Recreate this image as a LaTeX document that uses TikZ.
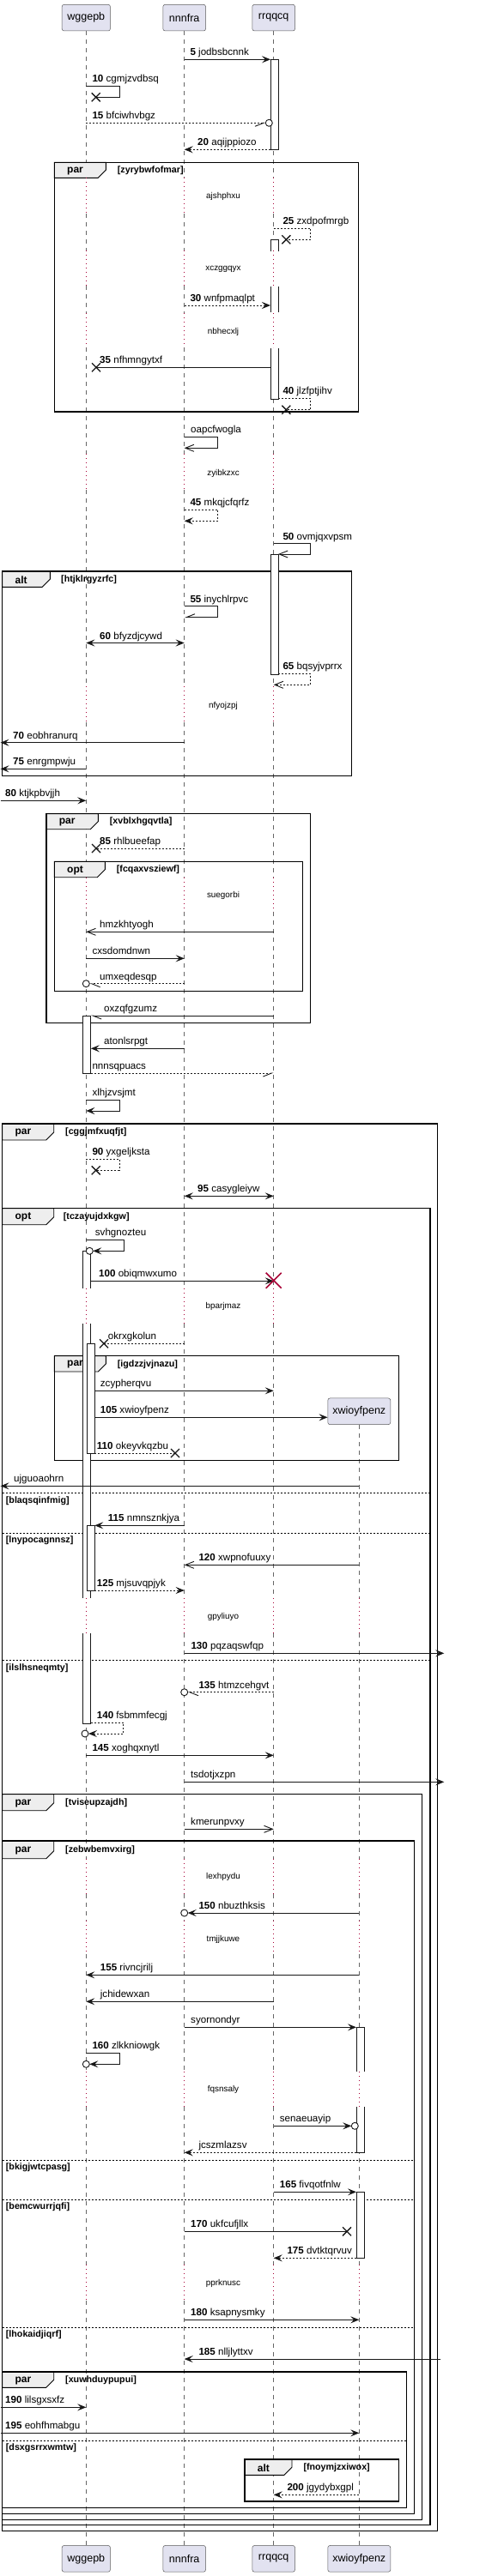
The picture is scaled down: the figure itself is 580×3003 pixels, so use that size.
\documentclass[tikz,border=0pt]{standalone}
\usepackage{fontspec}
\setmainfont{Liberation Sans}
\usetikzlibrary{arrows.meta,calc}

\definecolor{partfill}{RGB}{226,226,240}
\definecolor{tabfill}{RGB}{238,238,238}
\definecolor{delayred}{RGB}{168,0,54}
\definecolor{inkline}{RGB}{24,24,24}

\tikzset{
  participant/.style={draw=black!65, line width=0.5pt, fill=partfill, rounded corners=2.5pt,
    minimum height=30.7pt, inner sep=0pt, font=\fontsize{12.5}{14}\selectfont},
  lifeline/.style={draw=black!60, line width=0.5pt, dash pattern=on 5pt off 5pt},
  delayline/.style={draw=delayred, line width=0.6pt, dash pattern=on 1pt off 4pt},
  delaytext/.style={font=\fontsize{9.9}{11}\selectfont, inner sep=0pt},
  actbar/.style={draw=inkline, line width=0.8pt, fill=white, minimum width=9pt, inner sep=0pt, outer sep=0pt},
  msg/.style={draw=inkline, line width=0.9pt},
  reply/.style={msg, dash pattern=on 2pt off 2pt},
  headfill/.style={-{Stealth[length=10pt,width=8pt,inset=4pt]}},
  headboth/.style={{Stealth[length=10pt,width=8pt,inset=4pt]}-{Stealth[length=10pt,width=8pt,inset=4pt]}},
  headopen/.style={-{Straight Barb[length=10pt,width=8pt]}},
  halfleft/.style={-{Straight Barb[left,length=10pt,width=8pt]}},
  halfright/.style={-{Straight Barb[right,length=10pt,width=8pt]}},
  lbl/.style={font=\fontsize{11.6}{13}\selectfont, inner sep=0pt, anchor=base west},
  grpframe/.style={draw=black, line width=1.4pt},
  grptab/.style={draw=black, line width=0.9pt, fill=tabfill},
  keyword/.style={font=\bfseries\fontsize{12}{13}\selectfont, inner sep=0pt, anchor=west},
  guard/.style={font=\bfseries\fontsize{10.7}{12}\selectfont, inner sep=0pt, anchor=west},
  elseline/.style={draw=black, line width=0.8pt, dash pattern=on 2pt off 2pt},
  lost/.pic={\draw[inkline, line width=1.3pt] (-5,-5) -- (5,5) (-5,5) -- (5,-5);},
  kill/.pic={\draw[delayred, line width=1.6pt] (-9,-9) -- (9,9) (-9,9) -- (9,-9);},
  ring/.pic={\draw[inkline, line width=0.9pt, fill=white] (0,0) circle [radius=4pt];}
}

% L, T, R, B, tab right, tab bottom, keyword, guard x, guard
\newcommand{\seqgroup}[9]{%
  \draw[grptab] (#1,#2) -- (#5,#2) -- (#5,#6-9) -- (#5-9,#6) -- (#1,#6) -- cycle;
  \draw[grpframe] (#1,#2) rectangle (#3,#4);
  \node[keyword] (#9-kw) at (#1+14.7,{(#2+#6)/2+1}) {#7};
  \node[guard] (#9-guard) at (#8,{(#2+#6)/2+0.5}) {[#9]};
}
% L, R, y, guard
\newcommand{\seqelse}[4]{%
  \draw[elseline] (#1,#3) -- (#2,#3);
  \node[guard] (#4-guard) at (6.7,#3+8.7) {[#4]};
}

\begin{document}
\begin{tikzpicture}[x=1pt,y=-1pt]
\fill[white] (0,0) rectangle (580,3003);
\useasboundingbox (0,0) rectangle (580,3003);

% participants
\node[participant, minimum width=56.3pt] (wggepb) at (100.3,20.65) {wggepb};
\node[participant, minimum width=49.7pt] (nnnfra) at (214.7,20.65) {nnnfra};
\node[participant, minimum width=49.7pt] (rrqqcq) at (318.7,20.65) {rrqqcq};
\node[participant, minimum width=73pt] (xwioyfpenz) at (418.3,1645.3) {xwioyfpenz};
\node[participant, minimum width=56.3pt] (wggepb-end) at (100.3,2982.8) {wggepb};
\node[participant, minimum width=49.7pt] (nnnfra-end) at (214.7,2982.8) {nnnfra};
\node[participant, minimum width=49.7pt] (rrqqcq-end) at (318.7,2982.8) {rrqqcq};
\node[participant, minimum width=73pt] (xwioyfpenz-end) at (418.3,2982.8) {xwioyfpenz};

\coordinate (lbound) at (0.5,0);
\coordinate (rbound) at (517.3,0);
\coordinate (rbound-in) at (513.3,0);

% lifelines
\foreach \p in {wggepb,nnnfra,rrqqcq}{
  \foreach \a/\b in {36/207.3,249/291.7,333.3/365,405/529.3,571/800,841.7/1022.7,1062.7/1501.5,
      1543.3/1862.7,1904/2166.7,2208.3/2239,2278.3/2415,2456/2640,2681.7/2967.4}
    \draw[lifeline] (\p |- 0,\a) -- (\p |- 0,\b);
}
\foreach \a/\b in {1661/1862.7,1904/2166.7,2208.3/2239,2278.3/2415,2456/2640,2681.7/2967.4}
  \draw[lifeline] (xwioyfpenz |- 0,\a) -- (xwioyfpenz |- 0,\b);

% groups
\seqgroup{63.3}{189.3}{417.7}{480}{123.3}{207.3}{par}{136.7}{zyrybwfofmar}
\seqgroup{2.7}{666}{409.7}{904.7}{58.3}{684.3}{alt}{71}{htjklrgyzrfc}
\seqgroup{54}{948.7}{361.7}{1192.7}{114.3}{966.7}{par}{127.7}{xvblxhgqvtla}
\seqgroup{63.3}{1004.3}{352.7}{1155.3}{122.3}{1022.7}{opt}{135.7}{fcqaxvsziewf}
\seqgroup{2.7}{1310}{509.3}{2950.7}{62.7}{1329}{par}{76}{cggjmfxuqfjt}
\seqgroup{2.7}{1408.7}{501}{2943.7}{62.7}{1427.7}{opt}{73.7}{tczayujdxkgw}
\seqgroup{63.3}{1580.7}{464.3}{1702.3}{123.3}{1599}{par}{136.7}{igdzzjvjnazu}
\seqelse{2.7}{501}{1740.7}{blaqsqinfmig}
\seqelse{2.7}{501}{1787}{lnypocagnnsz}
\seqelse{2.7}{501}{1935.7}{ilslhsneqmty}
\seqgroup{2.7}{2091.7}{491.7}{2937.3}{62.7}{2110.7}{par}{76}{tviseupzajdh}
\seqgroup{2.7}{2146}{482.7}{2930.3}{62.7}{2166.7}{par}{76}{zebwbemvxirg}
\seqelse{2.7}{482.7}{2518.3}{bkigjwtcpasg}
\seqelse{2.7}{482.7}{2564}{bemcwurrjqfi}
\seqelse{2.7}{482.7}{2713.3}{lhokaidjiqrf}
\seqgroup{2.7}{2765}{473.3}{2923.3}{62.7}{2783.3}{par}{76}{xuwhduypupui}
\seqelse{2.7}{473.3}{2845.3}{dsxgsrrxwmtw}
\seqgroup{285}{2867}{464.3}{2916}{340}{2885.3}{alt}{353.3}{fnoymjzxiwox}

% activation bars
\node[actbar, minimum height=105pt] (barR1) at (319.5,121.8) {};
\node[actbar, minimum height=185.7pt] (barR2) at (319.5,372.15) {};
\node[actbar, minimum height=140pt] (barR3) at (319.5,716) {};
\node[actbar, minimum height=67.7pt] (barW1) at (101.3,1217.85) {};
\node[actbar, minimum height=551pt] (barW2) at (101.3,1733.8) {};
\node[actbar, minimum height=127.3pt] (barW3) at (105.8,1630.35) {};
\node[actbar, minimum height=75.7pt] (barW4) at (105.8,1816.15) {};
\node[actbar, minimum height=146pt] (barX1) at (419.5,2436.3) {};
\node[actbar, minimum height=77pt] (barX2) at (419.5,2593.8) {};
\fill[white] (314,292.7) rectangle (325,334.3);
\fill[white] (314,364.3) rectangle (325,406);
\fill[white] (96,1501.5) rectangle (107,1543.3);
\fill[white] (96,1862.7) rectangle (107,1904);
\fill[white] (414,2415) rectangle (425,2456);

% delays
\foreach \p in {wggepb,nnnfra,rrqqcq}{
  \foreach \a/\b in {207.3/249,291.7/333.3,365/405,529.3/571,800/841.7,1022.7/1062.7,1501.5/1543.3,
      1862.7/1904,2166.7/2208.3,2239/2278.3,2415/2456,2640/2681.7}
    \draw[delayline] (\p |- 0,\a) -- (\p |- 0,\b);
}
\foreach \a/\b in {1862.7/1904,2166.7/2208.3,2239/2278.3,2415/2456,2640/2681.7}
  \draw[delayline] (xwioyfpenz |- 0,\a) -- (xwioyfpenz |- 0,\b);
\node[delaytext] (d-ajshphxu) at (260,229.3) {ajshphxu};
\node[delaytext] (d-xczggqyx) at (260,314.3) {xczggqyx};
\node[delaytext] (d-nbhecxlj) at (260,386.7) {nbhecxlj};
\node[delaytext] (d-zyibkzxc) at (260,552.3) {zyibkzxc};
\node[delaytext] (d-nfyojzpj) at (260,823.3) {nfyojzpj};
\node[delaytext] (d-suegorbi) at (260,1044.3) {suegorbi};
\node[delaytext] (d-bparjmaz) at (260,1523.3) {bparjmaz};
\node[delaytext] (d-gpyliuyo) at (260,1885) {gpyliuyo};
\node[delaytext] (d-lexhpydu) at (260,2188.3) {lexhpydu};
\node[delaytext] (d-tmjjkuwe) at (260,2260.7) {tmjjkuwe};
\node[delaytext] (d-fqsnsaly) at (260,2436) {fqsnsaly};
\node[delaytext] (d-pprknusc) at (260,2661.7) {pprknusc};

% 5
\draw[msg, headfill] (nnnfra |- 0,69.3) -- (barR1.west |- 0,69.3);
\node[lbl] (t5) at (221.3,64.8) {\textbf{5} jodbsbcnnk};
% 10
\coordinate (x10) at ($(wggepb |- 0,113.3)+(11.4,0)$);
\draw[msg] (wggepb |- 0,100) -- ++(38.7,0) |- (x10);
\pic at (x10) {lost};
\node[lbl] (t10) at (107.3,95.5) {\textbf{10} cgmjzvdbsq};
% 15
\coordinate (o15) at ($(barR1.west |- 0,143.3)+(-1.7,0)$);
\draw[reply, halfright] (wggepb |- 0,143.3) -- ($(o15)+(-4,0)$);
\pic at (o15) {ring};
\node[lbl] (t15) at (107.3,138.8) {\textbf{15} bfciwhvbgz};
% 20
\draw[reply, headfill] (barR1.west |- 0,174.3) -- (nnnfra |- 0,174.3);
\node[lbl] (t20) at (230,169.8) {\textbf{20} aqijppiozo};
% 25
\coordinate (x25) at ($(rrqqcq |- 0,279.3)+(14.6,0)$);
\draw[reply] (rrqqcq |- 0,266) -- ++(43,0) |- (x25);
\pic at (x25) {lost};
\node[lbl] (t25) at (329.3,261.5) {\textbf{25} zxdpofmrgb};
% 30
\draw[reply, headfill] (nnnfra |- 0,356) -- (barR2.west |- 0,356);
\node[lbl] (t30) at (221.3,351.5) {\textbf{30} wnfpmaqlpt};
% 35
\coordinate (x35) at ($(wggepb |- 0,428.3)+(11.7,0)$);
\draw[msg] (barR2.west |- 0,428.3) -- (x35);
\pic at (x35) {lost};
\node[lbl] (t35) at (116,423.8) {\textbf{35} nfhmngytxf};
% 40
\coordinate (x40) at ($(rrqqcq |- 0,477.7)+(14.6,0)$);
\draw[reply] (barR2.east |- 0,464.3) -- ++(37.7,0) |- (x40);
\pic at (x40) {lost};
\node[lbl] (t40) at (329.3,459.8) {\textbf{40} jlzfptjihv};
% oapcfwogla
\draw[msg, headopen] (nnnfra |- 0,509.3) -- ++(39,0) |- (nnnfra |- 0,522.3);
\node[lbl] (t-oapcfwogla) at (222,504.8) {oapcfwogla};
% 45
\draw[reply, headfill] (nnnfra |- 0,594.3) -- ++(39,0) |- (nnnfra |- 0,607.3);
\node[lbl] (t45) at (221.3,589.8) {\textbf{45} mkqjcfqrfz};
% 50
\draw[msg, headopen] (rrqqcq |- 0,633.7) -- ++(43,0) |- (barR3.east |- 0,646);
\node[lbl] (t50) at (329.3,629.2) {\textbf{50} ovmjqxvpsm};
% 55
\draw[msg, halfright] (nnnfra |- 0,706.7) -- ++(39,0) |- (nnnfra |- 0,719.7);
\node[lbl] (t55) at (221.3,702.2) {\textbf{55} inychlrpvc};
% 60
\draw[msg, headboth] (wggepb |- 0,749.5) -- (nnnfra |- 0,749.5);
\node[lbl] (t60) at (116,745) {\textbf{60} bfyzdjcywd};
% 65
\draw[reply, headopen] (barR3.east |- 0,785.3) -- ++(37.7,0) |- (rrqqcq |- 0,798.3);
\node[lbl] (t65) at (329.3,780.8) {\textbf{65} bqsyjvprrx};
% 70
\draw[msg, headfill] (nnnfra |- 0,865.7) -- (lbound |- 0,865.7);
\node[lbl] (t70) at (15,861.2) {\textbf{70} eobhranurq};
% 75
\draw[msg, headfill] (wggepb |- 0,896.3) -- (lbound |- 0,896.3);
\node[lbl] (t75) at (15,891.8) {\textbf{75} enrgmpwju};
% 80
\draw[msg, headfill] (lbound |- 0,933.3) -- (wggepb |- 0,933.3);
\node[lbl] (t80) at (6,928.8) {\textbf{80} ktjkpbvjjh};
% 85
\coordinate (x85) at ($(wggepb |- 0,989)+(11.7,0)$);
\draw[reply] (nnnfra |- 0,989) -- (x85);
\pic at (x85) {lost};
\node[lbl] (t85) at (116,984.5) {\textbf{85} rhlbueefap};
% hmzkhtyogh
\draw[msg, headopen] (rrqqcq |- 0,1086.3) -- (wggepb |- 0,1086.3);
\node[lbl] (t-hmzkhtyogh) at (116,1081.8) {hmzkhtyogh};
% cxsdomdnwn
\draw[msg, headfill] (wggepb |- 0,1117.3) -- (nnnfra |- 0,1117.3);
\node[lbl] (t-cxsdomdnwn) at (107.3,1112.8) {cxsdomdnwn};
% umxeqdesqp
\coordinate (o-umx) at (wggepb |- 0,1146.7);
\draw[reply, halfleft] (nnnfra |- 0,1146.7) -- ($(o-umx)+(4,0)$);
\pic at (o-umx) {ring};
\node[lbl] (t-umxeqdesqp) at (116,1142.2) {umxeqdesqp};
% oxzqfgzumz
\draw[msg, halfleft] (rrqqcq |- 0,1184) -- (barW1.east |- 0,1184);
\node[lbl] (t-oxzqfgzumz) at (121,1179.5) {oxzqfgzumz};
% atonlsrpgt
\draw[msg, headfill] (nnnfra |- 0,1222.3) -- (barW1.east |- 0,1222.3);
\node[lbl] (t-atonlsrpgt) at (121,1217.8) {atonlsrpgt};
% nnnsqpuacs
\draw[reply, halfright] (barW1.east |- 0,1251) -- (rrqqcq |- 0,1251);
\node[lbl] (t-nnnsqpuacs) at (107.3,1246.5) {nnnsqpuacs};
% xlhjzvsjmt
\draw[msg, headfill] (wggepb |- 0,1282.3) -- ++(38.7,0) |- (wggepb |- 0,1295);
\node[lbl] (t-xlhjzvsjmt) at (107.3,1277.8) {xlhjzvsjmt};
% 90
\coordinate (x90) at ($(wggepb |- 0,1364.3)+(11.4,0)$);
\draw[reply] (wggepb |- 0,1351) -- ++(38.7,0) |- (x90);
\pic at (x90) {lost};
\node[lbl] (t90) at (107.3,1346.5) {\textbf{90} yxgeljksta};
% 95
\draw[msg, headboth] (nnnfra |- 0,1394.3) -- (rrqqcq |- 0,1394.3);
\node[lbl] (t95) at (230,1389.8) {\textbf{95} casygleiyw};
% svhgnozteu
\coordinate (o-svh) at ($(wggepb |- 0,1458.3)+(4,0)$);
\draw[msg, headfill] (wggepb |- 0,1445.3) -- ++(43.7,0) |- ($(o-svh)+(4,0)$);
\pic at (o-svh) {ring};
\node[lbl] (t-svhgnozteu) at (110.7,1440.8) {svhgnozteu};
% 100
\draw[msg, headfill] (barW2.east |- 0,1493.3) -- (rrqqcq |- 0,1493.3);
\pic at (rrqqcq |- 0,1492.7) {kill};
\node[lbl] (t100) at (115,1488.8) {\textbf{100} obiqmwxumo};
% okrxgkolun
\coordinate (x-okr) at ($(barW3.east |- 0,1566.3)+(10.7,0)$);
\draw[reply] (nnnfra |- 0,1566.3) -- (x-okr);
\pic at (x-okr) {lost};
\node[lbl] (t-okrxgkolun) at (125.7,1561.8) {okrxgkolun};
% zcypherqvu
\draw[msg, headfill] (barW3.east |- 0,1621.3) -- (rrqqcq |- 0,1621.3);
\node[lbl] (t-zcypherqvu) at (116.7,1616.8) {zcypherqvu};
% 105
\draw[msg, headfill] (barW3.east |- 0,1652.3) -- (xwioyfpenz.west |- 0,1652.3);
\node[lbl] (t105) at (116.7,1647.8) {\textbf{105} xwioyfpenz};
% 110
\coordinate (x110) at ($(nnnfra |- 0,1694)+(-10.7,0)$);
\draw[reply] (barW3.east |- 0,1694) -- (x110);
\pic at (x110) {lost};
\node[lbl] (t110) at (112.7,1689.5) {\textbf{110} okeyvkqzbu};
% ujguoaohrn
\draw[msg, headfill] (xwioyfpenz |- 0,1732.3) -- (lbound |- 0,1732.3);
\node[lbl] (t-ujguoaohrn) at (16,1727.8) {ujguoaohrn};
% 115
\draw[msg, headfill] (nnnfra |- 0,1778.3) -- (barW4.east |- 0,1778.3);
\node[lbl] (t115) at (125.7,1773.8) {\textbf{115} nmnsznkjya};
% 120
\draw[msg, headopen] (xwioyfpenz |- 0,1824.3) -- (nnnfra |- 0,1824.3);
\node[lbl] (t120) at (231.3,1819.8) {\textbf{120} xwpnofuuxy};
% 125
\draw[reply, headfill] (barW4.east |- 0,1854) -- (nnnfra |- 0,1854);
\node[lbl] (t125) at (112.7,1849.5) {\textbf{125} mjsuvqpjyk};
% 130
\draw[msg, headfill] (nnnfra |- 0,1927.3) -- (rbound |- 0,1927.3);
\node[lbl] (t130) at (222.3,1922.8) {\textbf{130} pqzaqswfqp};
% 135
\coordinate (o135) at (nnnfra |- 0,1972.7);
\draw[reply, halfleft] (rrqqcq |- 0,1972.7) -- ($(o135)+(4,0)$);
\pic at (o135) {ring};
\node[lbl] (t135) at (231.3,1968.2) {\textbf{135} htmzcehgvt};
% 140
\coordinate (o140) at ($(wggepb |- 0,2021)+(-1.3,0)$);
\draw[reply, headfill] (barW2.east |- 0,2008.3) -- ++(38,0) |- ($(o140)+(4,0)$);
\pic at (o140) {ring};
\node[lbl] (t140) at (112.7,2003.8) {\textbf{140} fsbmmfecgj};
% 145
\draw[msg, headfill] (wggepb |- 0,2046.3) -- (rrqqcq |- 0,2046.3);
\node[lbl] (t145) at (107.3,2041.8) {\textbf{145} xoghqxnytl};
% tsdotjxzpn
\draw[msg, headfill] (nnnfra |- 0,2077.3) -- (rbound |- 0,2077.3);
\node[lbl] (t-tsdotjxzpn) at (222,2072.8) {tsdotjxzpn};
% kmerunpvxy
\draw[msg, headopen] (nnnfra |- 0,2132.3) -- (rrqqcq |- 0,2132.3);
\node[lbl] (t-kmerunpvxy) at (222,2127.8) {kmerunpvxy};
% 150
\coordinate (o150) at (nnnfra |- 0,2230);
\draw[msg, headfill] (xwioyfpenz |- 0,2230) -- ($(o150)+(4,0)$);
\pic at (o150) {ring};
\node[lbl] (t150) at (231.3,2225.5) {\textbf{150} nbuzthksis};
% 155
\draw[msg, headfill] (xwioyfpenz |- 0,2302.3) -- (wggepb |- 0,2302.3);
\node[lbl] (t155) at (116.7,2297.8) {\textbf{155} rivncjrilj};
% jchidewxan
\draw[msg, headfill] (rrqqcq |- 0,2333.3) -- (wggepb |- 0,2333.3);
\node[lbl] (t-jchidewxan) at (116.7,2328.8) {jchidewxan};
% syornondyr
\draw[msg, headfill] (nnnfra |- 0,2363.3) -- (barX1.west |- 0,2363.3);
\node[lbl] (t-syornondyr) at (222,2358.8) {syornondyr};
% 160
\coordinate (o160) at (wggepb |- 0,2406.3);
\draw[msg, headfill] (wggepb |- 0,2393.3) -- ++(38.7,0) |- ($(o160)+(4,0)$);
\pic at (o160) {ring};
\node[lbl] (t160) at (107.3,2388.8) {\textbf{160} zlkkniowgk};
% senaeuayip
\coordinate (o-sen) at ($(barX1.west |- 0,2478.3)+(-1.7,0)$);
\draw[msg, headfill] (rrqqcq |- 0,2478.3) -- ($(o-sen)+(-4,0)$);
\pic at (o-sen) {ring};
\node[lbl] (t-senaeuayip) at (325.7,2473.8) {senaeuayip};
% jcszmlazsv
\draw[reply, headfill] (barX1.west |- 0,2509.3) -- (nnnfra |- 0,2509.3);
\node[lbl] (t-jcszmlazsv) at (231.3,2504.8) {jcszmlazsv};
% 165
\draw[msg, headfill] (rrqqcq |- 0,2555.3) -- (barX2.west |- 0,2555.3);
\node[lbl] (t165) at (325.7,2550.8) {\textbf{165} fivqotfnlw};
% 170
\coordinate (x170) at ($(barX2.west |- 0,2601.3)+(-11,0)$);
\draw[msg] (nnnfra |- 0,2601.3) -- (x170);
\pic at (x170) {lost};
\node[lbl] (t170) at (222,2596.8) {\textbf{170} ukfcufjllx};
% 175
\draw[reply, headfill] (barX2.west |- 0,2632.3) -- (rrqqcq |- 0,2632.3);
\node[lbl] (t175) at (334.3,2627.8) {\textbf{175} dvtktqrvuv};
% 180
\draw[msg, headfill] (nnnfra |- 0,2704.3) -- (xwioyfpenz |- 0,2704.3);
\node[lbl] (t180) at (222,2699.8) {\textbf{180} ksapnysmky};
% 185
\draw[msg, headfill] (rbound-in |- 0,2750) -- (nnnfra |- 0,2750);
\node[lbl] (t185) at (231.3,2745.5) {\textbf{185} nlljlyttxv};
% 190
\draw[msg, headfill] (lbound |- 0,2806.3) -- (wggepb |- 0,2806.3);
\node[lbl] (t190) at (6,2801.8) {\textbf{190} lilsgxsxfz};
% 195
\draw[msg, headfill] (lbound |- 0,2836.3) -- (xwioyfpenz |- 0,2836.3);
\node[lbl] (t195) at (6,2831.8) {\textbf{195} eohfhmabgu};
% 200
\draw[reply, headfill] (xwioyfpenz |- 0,2908.3) -- (rrqqcq |- 0,2908.3);
\node[lbl] (t200) at (334.3,2903.8) {\textbf{200} jgydybxgpl};
\end{tikzpicture}
\end{document}
